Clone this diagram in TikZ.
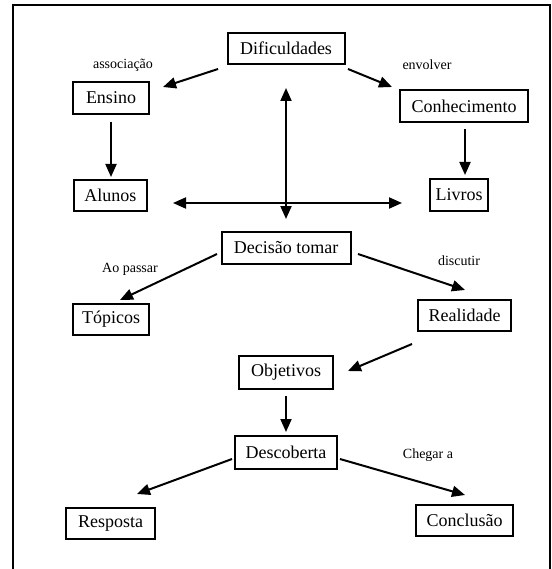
\documentclass[tikz,border=0pt]{standalone}
\usepackage{fontspec}
\setmainfont{Liberation Serif}
\usetikzlibrary{arrows.meta}

\tikzset{
  box/.style={draw, line width=2pt, inner sep=0pt, outer sep=0pt,
    font=\fontsize{18}{20}\selectfont},
  lbl/.style={inner sep=0pt, font=\fontsize{14}{16}\selectfont},
  tip/.tip={Triangle[length=13pt,width=11pt]},
  arr/.style={line width=2pt, -tip},
  dblarr/.style={line width=2pt, tip-tip},
}

\begin{document}
\begin{tikzpicture}[x=1pt, y=-1pt]
  \useasboundingbox (0,0) rectangle (551,569);

  % outer frame (open at the bottom)
  \draw[line width=2pt] (13,580) -- (13,5.5) -- (550,5.5) -- (550,580);

  % concept boxes
  \node[box, minimum width=117pt, minimum height=31pt] (dif)  at (286,48.5)   {Dificuldades};
  \node[box, minimum width=76pt,  minimum height=32pt] (ens)  at (111,98)     {Ensino};
  \node[box, minimum width=128pt, minimum height=32pt] (conh) at (464,106)    {Conhecimento};
  \node[box, minimum width=73pt,  minimum height=31pt] (alu)  at (110.5,195.5){Alunos};
  \node[box, minimum width=58pt,  minimum height=32pt] (liv)  at (459,195)    {Livros};
  \node[box, minimum width=129pt, minimum height=32pt] (dec)  at (286,248)    {Decisão tomar};
  \node[box, minimum width=76pt,  minimum height=31pt] (top)  at (111,319.5)  {Tópicos};
  \node[box, minimum width=93pt,  minimum height=31pt] (rea)  at (464.5,315.5){Realidade};
  \node[box, minimum width=94pt,  minimum height=33pt] (obj)  at (286,372.5)  {Objetivos};
  \node[box, minimum width=102pt, minimum height=33pt] (desc) at (286,452.5)  {Descoberta};
  \node[box, minimum width=89pt,  minimum height=31pt] (resp) at (110.5,523.5){Resposta};
  \node[box, minimum width=97pt,  minimum height=31pt] (conc) at (464.5,520)  {Conclusão};

  % link labels
  \node[lbl] (l1) at (123,65)  {associação};
  \node[lbl] (l2) at (427,65)  {envolver};
  \node[lbl] (l3) at (130,269) {Ao passar};
  \node[lbl] (l4) at (459,261) {discutir};
  \node[lbl] (l5) at (428,455) {Chegar a};

  % connectors
  \draw[arr] ([shift={(-9.5,5)}]dif.south west) -- ([shift={(14,5)}]ens.north east);
  \draw[arr] ([shift={(3.5,5)}]dif.south east) -- ([shift={(-8,-3)}]conh.north west);
  \draw[arr] ([shift={(0,8)}]ens.south) -- ([shift={(0.5,-3)}]alu.north);
  \draw[arr] ([shift={(1,7)}]conh.south) -- ([shift={(6,-4)}]liv.north);
  \draw[dblarr] ([shift={(0,24)}]dif.south) -- ([shift={(0,-13)}]dec.north);
  \draw[dblarr] ([shift={(26,7.5)}]alu.east) -- ([shift={(-28,8)}]liv.west);
  \draw[arr] ([shift={(-4.5,6)}]dec.west) -- ([shift={(9,-4)}]top.north);
  \draw[arr] ([shift={(7.5,6)}]dec.east) -- ([shift={(0.5,-10)}]rea.north);
  \draw[arr] ([shift={(-6,13)}]rea.south west) -- ([shift={(15,-1.5)}]obj.east);
  \draw[arr] ([shift={(0,7)}]obj.south) -- ([shift={(0,-4)}]desc.north);
  \draw[arr] ([shift={(-3,6.5)}]desc.west) -- ([shift={(26.5,-14)}]resp.north);
  \draw[arr] ([shift={(3,6.5)}]desc.east) -- ([shift={(0.5,-9.5)}]conc.north);
\end{tikzpicture}
\end{document}
